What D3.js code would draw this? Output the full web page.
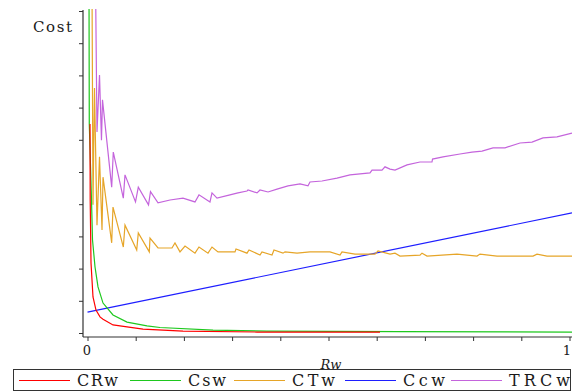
<!DOCTYPE html>
<html>
<head>
<meta charset="utf-8">
<script src="https://cdn.jsdelivr.net/npm/d3@7"></script>
<style>
  body { margin: 0; background: #fff; }
  svg text { font-family: "DejaVu Serif", "Liberation Serif", serif; fill: #1a1a1a; }
</style>
</head>
<body>
<div id="wrapper"></div>
<script>
// series, [Rw, cost]
const crw = [[0.0052,6.49],[0.0056,4.13],[0.0073,2.17],[0.0114,1.12],[0.0176,0.71],[0.0259,0.50],[0.0322,0.43],[0.0529,0.25],[0.082,0.19],[0.1151,0.12],[0.1981,0.06],[0.3517,0.03],[0.6068,0.03]];
const csw = [[0.0031,10.96],[0.0037,6.49],[0.0083,4.13],[0.0104,2.89],[0.0156,2.05],[0.0218,1.43],[0.0322,0.93],[0.0529,0.56],[0.082,0.34],[0.1234,0.22],[0.1504,0.17],[0.2604,0.09],[0.3724,0.06],[0.6483,0.04],[1.0052,0.03]];
const ctw = [[0.0093,10.96],[0.0114,3.98],[0.0145,7.61],[0.0197,3.35],[0.0249,5.47],[0.0301,3.2],[0.0322,4.84],[0.0502,2.8],[0.0529,3.91],[0.0743,2.67],[0.0778,3.35],[0.1021,2.58],[0.1054,3.11],[0.1282,2.52],[0.1297,2.95],[0.1463,2.64],[0.1753,2.64],[0.1815,2.8],[0.1919,2.52],[0.2023,2.7],[0.223,2.48],[0.2313,2.67],[0.25,2.48],[0.2583,2.67],[0.2707,2.52],[0.306,2.52],[0.3081,2.61],[0.3309,2.48],[0.3351,2.58],[0.3579,2.42],[0.362,2.52],[0.3828,2.42],[0.3869,2.58],[0.4056,2.48],[0.4098,2.52],[0.4347,2.48],[0.4616,2.52],[0.5031,2.52],[0.5239,2.42],[0.528,2.52],[0.555,2.45],[0.5965,2.45],[0.6027,2.55],[0.6276,2.45],[0.638,2.48],[0.6483,2.39],[0.6898,2.42],[0.694,2.48],[0.7044,2.39],[0.7666,2.45],[0.8081,2.39],[0.8143,2.45],[0.8496,2.39],[0.9243,2.39],[0.9326,2.45],[0.9533,2.39],[1.0052,2.39]];
const ccw = [[0,0.65],[1.0052,3.73]];
const trcw = [[0.0166,10.96],[0.0197,6.24],[0.0249,8.01],[0.029,5.99],[0.0311,7.24],[0.0502,4.53],[0.0535,5.62],[0.0743,4.19],[0.0778,4.91],[0.0996,4.07],[0.1054,4.53],[0.1266,3.98],[0.1307,4.39],[0.1463,4.04],[0.1712,4.13],[0.1981,4.19],[0.223,4.07],[0.2313,4.29],[0.2541,4.07],[0.2583,4.35],[0.2687,4.19],[0.2956,4.29],[0.3122,4.35],[0.3309,4.41],[0.333,4.44],[0.3517,4.35],[0.3579,4.44],[0.3745,4.38],[0.3932,4.47],[0.416,4.57],[0.4409,4.63],[0.4575,4.57],[0.4616,4.69],[0.4865,4.72],[0.5176,4.81],[0.5446,4.91],[0.5861,4.97],[0.5903,5.06],[0.611,5.06],[0.6172,5.16],[0.6276,5.09],[0.638,5.06],[0.6629,5.22],[0.6898,5.31],[0.7147,5.31],[0.7158,5.4],[0.7376,5.47],[0.7728,5.56],[0.7977,5.62],[0.8185,5.65],[0.8413,5.75],[0.8662,5.75],[0.8973,5.9],[0.9222,5.93],[0.945,6.06],[0.9741,6.09],[1.0052,6.21]];

const seriesNames = ["CRw", "Csw", "CTw", "Ccw", "TRCw"];
const seriesColors = ["#ff0000", "#1ec81e", "#e6a528", "#1e1eff", "#c464dc"];
const xTicks = [0, 0.1, 0.2, 0.3, 0.4, 0.5, 0.6, 0.7, 0.8, 0.9, 1];
const xTickLabels = { 0: "0", 1: "1" };
const yTicks = [0, 1, 2, 3, 4, 5, 6, 7, 8, 9, 10];

function drawChart() {
  const seriesData = [crw, csw, ctw, ccw, trcw];

  // 1. dimensions
  let dimensions = {
    width: 572,
    height: 392,
    axisX: 83,   // where the y axis sits
    axisY: 337,  // where the x axis sits
    plotLeft: 87.5,
    plotRight: 569.5,
    plotTop: 11,
    plotBottom: 333,
  };

  // 2. canvas
  const wrapper = d3
    .select("#wrapper")
    .append("svg")
    .attr("width", dimensions.width)
    .attr("height", dimensions.height);

  wrapper
    .append("defs")
    .append("clipPath")
    .attr("id", "plot-clip")
    .append("rect")
    .attr("x", dimensions.axisX)
    .attr("y", 9)
    .attr("width", dimensions.width - dimensions.axisX)
    .attr("height", dimensions.axisY - 9);

  // 3. scales
  const xScale = d3
    .scaleLinear()
    .domain([0, 1])
    .range([dimensions.plotLeft, dimensions.plotRight]);

  const yScale = d3
    .scaleLinear()
    .domain([0, 10])
    .range([dimensions.plotBottom, dimensions.plotTop]);

  // 4. axes
  const yAxis = wrapper
    .append("g")
    .attr("transform", `translate(${dimensions.axisX},0)`)
    .call(d3.axisLeft(yScale).tickValues(yTicks).tickSize(4).tickFormat(""));
  yAxis.select(".domain").remove();
  yAxis.selectAll(".tick line").attr("stroke", "#333");
  yAxis
    .append("line")
    .attr("x1", 0)
    .attr("x2", 0)
    .attr("y1", 10)
    .attr("y2", dimensions.axisY)
    .attr("stroke", "#333")
    .attr("stroke-width", 1.2);

  const xAxis = wrapper
    .append("g")
    .attr("transform", `translate(0,${dimensions.axisY})`)
    .call(
      d3
        .axisBottom(xScale)
        .tickValues(xTicks)
        .tickSize(4)
        .tickPadding(5)
        .tickFormat((d) => xTickLabels[d] || "")
    );
  xAxis.select(".domain").remove();
  xAxis.selectAll(".tick line").attr("stroke", "#333");
  xAxis
    .selectAll(".tick text")
    .attr("font-size", 13)
    .attr("dx", (d) => (d === 1 ? -3 : -1));
  xAxis
    .append("line")
    .attr("x1", dimensions.axisX)
    .attr("x2", dimensions.width)
    .attr("y1", 0)
    .attr("y2", 0)
    .attr("stroke", "#333")
    .attr("stroke-width", 1.2);

  // axis titles
  wrapper
    .append("text")
    .attr("x", 33)
    .attr("y", 32)
    .attr("font-size", 15)
    .attr("textLength", 39)
    .attr("lengthAdjust", "spacing")
    .text("Cost");

  wrapper
    .append("text")
    .attr("x", 331)
    .attr("y", 369)
    .attr("text-anchor", "middle")
    .attr("font-size", 13)
    .attr("font-style", "italic")
    .text("Rw");

  // 5. lines
  const lineGenerator = d3
    .line()
    .x((d) => xScale(d[0]))
    .y((d) => yScale(d[1]));

  const lines = wrapper.append("g").attr("clip-path", "url(#plot-clip)");
  // blue under the rest
  const drawOrder = [3, 4, 2, 1, 0];
  drawOrder.forEach((i) => {
    lines
      .append("path")
      .datum(seriesData[i])
      .attr("d", lineGenerator)
      .attr("fill", "none")
      .attr("stroke", seriesColors[i])
      .attr("stroke-width", 1.2);
  });

  // 6. legend
  const legend = wrapper.append("g");
  legend
    .append("rect")
    .attr("x", 13.5)
    .attr("y", 369.5)
    .attr("width", 557)
    .attr("height", 21)
    .attr("fill", "none")
    .attr("stroke", "#333");

  const legendLineX = [19, 130, 234, 345, 451];
  const legendTextWidth = [41, 38, 43, 42, 61];
  seriesNames.forEach((name, i) => {
    legend
      .append("line")
      .attr("x1", legendLineX[i])
      .attr("x2", legendLineX[i] + 51)
      .attr("y1", 380.5)
      .attr("y2", 380.5)
      .attr("stroke", seriesColors[i])
      .attr("stroke-width", 1.2);
    legend
      .append("text")
      .attr("x", legendLineX[i] + 58)
      .attr("y", 386)
      .attr("font-size", 16)
      .attr("textLength", legendTextWidth[i])
      .attr("lengthAdjust", "spacing")
      .text(name);
  });
}
drawChart();
</script>
</body>
</html>
